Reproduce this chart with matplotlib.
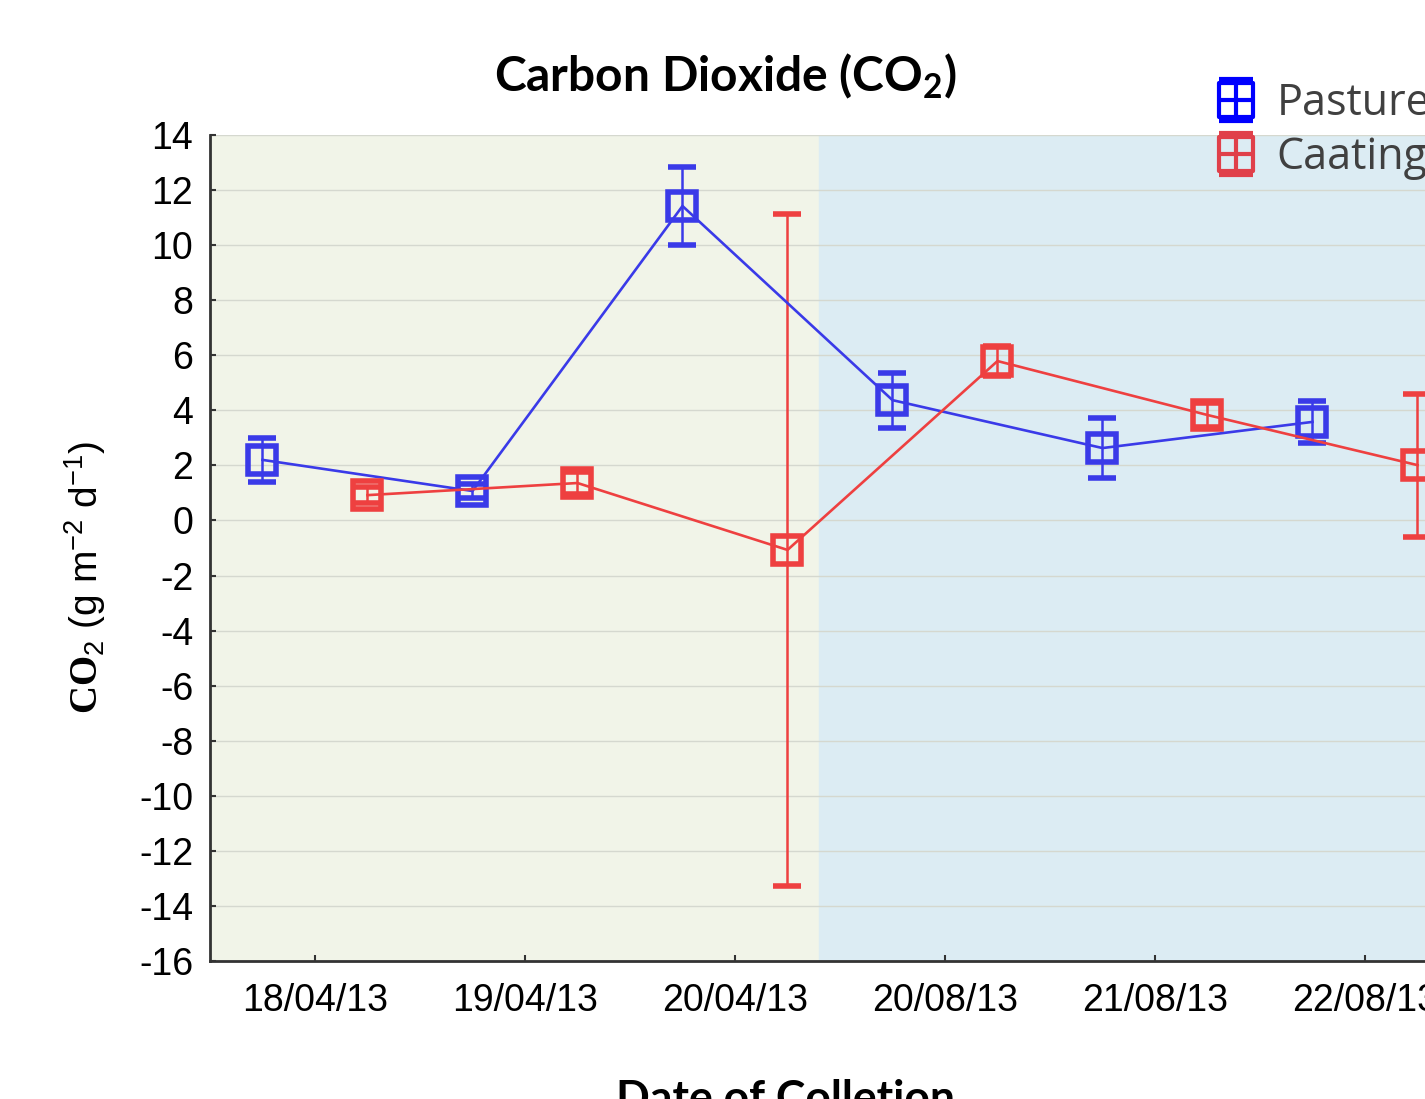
import numpy as np
import matplotlib.pyplot as plt
from matplotlib.path import Path
from matplotlib.lines import Line2D

plt.rcParams['font.family'] = 'Liberation Sans'
plt.rcParams['axes.unicode_minus'] = False
plt.rcParams['mathtext.fontset'] = 'custom'
plt.rcParams['mathtext.rm'] = 'Liberation Sans'
plt.rcParams['mathtext.it'] = 'Liberation Sans:italic'
plt.rcParams['mathtext.bf'] = 'Liberation Serif:bold'

# ---------------- data ----------------
dates = ["18/04/13", "19/04/13", "20/04/13", "20/08/13", "21/08/13", "22/08/13"]
pasture = [2.2, 1.07, 11.42, 4.37, 2.63, 3.58]
pasture_err = [0.8, 0.25, 1.4, 1.0, 1.1, 0.75]
caatinga = [0.92, 1.36, -1.07, 5.79, 3.83, 2.01]
caatinga_err = [0.3, 0.4, 12.2, 0.55, 0.45, 2.6]

blue = '#3a3ae8'
red = '#ee4040'

fig = plt.figure(figsize=(14.25, 10.99), dpi=100)
ax = fig.add_axes([210/1425, 138/1099, 1260/1425, 826/1099])

x = np.arange(len(dates))

# seasonal background
ax.axvspan(-0.5, 2.4, color='#f1f4e8', zorder=0)
ax.axvspan(2.4, 5.5, color='#dcecf3', zorder=0)

ax.errorbar(x - 0.25, pasture, yerr=pasture_err, color=blue, lw=1.9,
            marker='s', ms=20.5, mfc='none', mec=blue, mew=4,
            capsize=10, capthick=1.8, elinewidth=1.8, zorder=3)
ax.errorbar(x + 0.25, caatinga, yerr=caatinga_err, color=red, lw=1.9,
            marker='s', ms=20.5, mfc='none', mec=red, mew=4,
            capsize=10, capthick=1.8, elinewidth=1.8, zorder=3)

ax.set_xlim(-0.5, 5.5)
ax.set_ylim(-16, 14)
ax.set_yticks(np.arange(-16, 15, 2))
ax.set_xticks(x)
ax.set_xticklabels(dates)
ax.tick_params(axis='both', direction='in', length=4, width=1.5,
               labelsize=27, color='#333333')
ax.tick_params(axis='y', pad=12)
ax.tick_params(axis='x', pad=16)
ax.yaxis.grid(True, color='#d5d8cf', lw=1)
ax.set_axisbelow(True)
for s in ['top', 'right']:
    ax.spines[s].set_visible(False)
for s in ['left', 'bottom']:
    ax.spines[s].set_linewidth(2)
    ax.spines[s].set_color('#333333')

fig.text(725/1425, 1 - 76/1099, r"Carbon Dioxide (CO$_\mathregular{2}$)",
         family='Lato', weight='bold', fontsize=34.5, ha='center', va='center')
fig.text(785/1425, -0.012, "Date of Colletion", family='Lato', weight='bold',
         fontsize=32, ha='center', va='baseline')
fig.text(85/1425, 1 - 577/1099, r"$\mathbf{CO}_2$ (g m$^{-2}$ d$^{-1}$)",
         fontsize=28, rotation=90, ha='center', va='center')

# legend marker: box with cross and caps
verts = [(-0.8, -0.8), (0.8, -0.8), (0.8, 0.8), (-0.8, 0.8), (-0.8, -0.8),
         (0, -1), (0, 1), (-0.8, 0), (0.8, 0),
         (-0.8, 1), (0.8, 1), (-0.8, -1), (0.8, -1)]
codes = [Path.MOVETO, Path.LINETO, Path.LINETO, Path.LINETO, Path.CLOSEPOLY,
         Path.MOVETO, Path.LINETO, Path.MOVETO, Path.LINETO,
         Path.MOVETO, Path.LINETO, Path.MOVETO, Path.LINETO]
box = Path(verts, codes)
h1 = Line2D([], [], ls='none', marker=box, ms=30, mfc='none', mec='#0000ff', mew=3)
h2 = Line2D([], [], ls='none', marker=box, ms=30, mfc='none', mec='#e0404a', mew=3)
leg = fig.legend([h1, h2], ["Pasture", "Caatinga"], loc='upper left',
                 bbox_to_anchor=(1171/1425, 1 - 43/1099), frameon=False,
                 prop={'family': 'Open Sans', 'size': 31},
                 handletextpad=0.35, labelspacing=0.22, handlelength=1.2)
for t in leg.get_texts():
    t.set_color('#404040')

fig.savefig("out.png", dpi=100)
